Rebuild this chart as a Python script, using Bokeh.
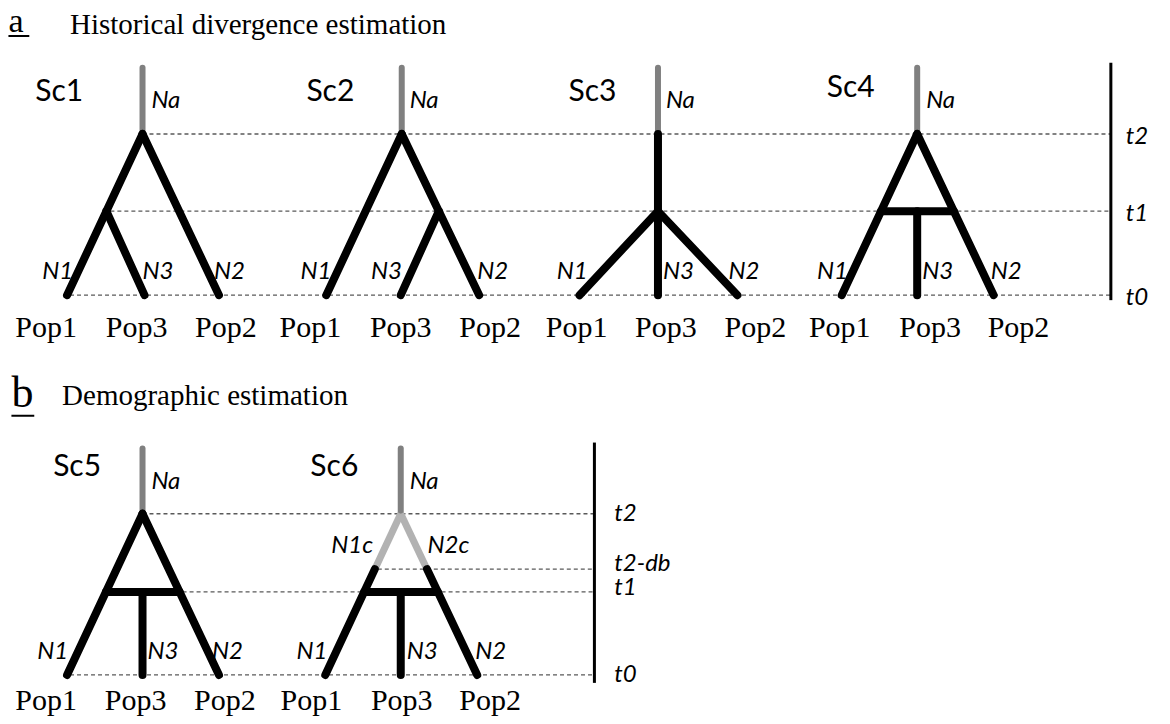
from bokeh.plotting import figure
from bokeh.models import Range1d, ColumnDataSource
from bokeh.embed import file_html
from bokeh.resources import INLINE
from bokeh.core.properties import value

# ---------------- data (diagram coordinates, reference-pixel units) ----------------
# Panel a: time levels
A_TIME_LABELS = ["t2", "t1", "t0"]
A_TIME_Y = [135, 213, 298]
A_NA_TOP = 68
A_BAR_X = 1118
A_BAR_Y = [63, 303]

# Panel b: time levels
B_TIME_LABELS = ["t2", "t2-db", "t1", "t0"]
B_TIME_Y = [519, 575, 598, 682]
B_TIME_LABEL_Y = [517, 567, 592, 680]
B_NA_TOP = 453
B_BAR_X = 598
B_BAR_Y = [447, 690]

SCENARIOS = ["Sc1", "Sc2", "Sc3", "Sc4", "Sc5", "Sc6"]
ROOT_X = [143, 404, 662, 923, 143, 403]
POP1_X = [67, 328, 583, 847, 67, 327]
POP3_X = [145, 403, 662, 923, 143, 403]
POP2_X = [220, 482, 742, 1000, 220, 480]

POP_NAMES = ["Pop1", "Pop3", "Pop2"]
POP_LABEL_X = [46, 137, 227, 312, 403, 493, 580, 670, 760, 845, 936, 1025]
POP_LABEL_X_B = [46, 136, 226, 313, 404, 493]

SC_LABEL_X = [35, 308, 572, 832, 53, 312]
SC_LABEL_Y = [89, 89, 89, 85, 469, 469]
NA_LABEL_X = [152, 412, 670, 932, 152, 412]
NA_LABEL_Y = [99, 99, 99, 99, 484, 484]
N_LABELS = ["N1", "N3", "N2"]
N1_LABEL_X = [42, 302, 560, 822, 37, 298]
N3_LABEL_X = [143, 373, 667, 928, 148, 409]
N2_LABEL_X = [215, 480, 733, 997, 213, 478]
N_LABEL_Y = [272, 272, 272, 272, 656, 656]
NC_LABELS = ["N1c", "N2c"]
NC_LABEL_X = [333, 430]
NC_LABEL_Y = [549, 549]

PANEL_LETTERS = ["a", "b"]
PANEL_TITLES = ["Historical divergence estimation", "Demographic estimation"]

BLACK = "#000000"
GRAY = "#808080"
LIGHT = "#b2b2b2"
DASH = "#595959"

# ---------------- figure ----------------
W, H = 1162, 716
p = figure(width=W, height=H, x_range=Range1d(0, 1170), y_range=Range1d(724, 0),
           output_backend="svg", toolbar_location=None, min_border=0)
p.axis.visible = False
p.grid.visible = False
p.outline_line_color = None
p.background_fill_color = "white"


def xat(x0, y0, x1, y1, y):
    return x0 + (x1 - x0) * (y - y0) / (y1 - y0)


dash_x0, dash_x1, dash_y = [], [], []
gray = dict(x0=[], y0=[], x1=[], y1=[])
light = dict(x0=[], y0=[], x1=[], y1=[])
blk = dict(x0=[], y0=[], x1=[], y1=[])


def seg(d, x0, y0, x1, y1):
    d["x0"].append(x0); d["y0"].append(y0); d["x1"].append(x1); d["y1"].append(y1)


# panel a trees
t2, t1, t0 = A_TIME_Y
for i in range(4):
    rx, a, m, b = ROOT_X[i], POP1_X[i], POP3_X[i], POP2_X[i]
    if i == 2:
        seg(gray, rx, A_NA_TOP, rx, t2 - 4)
        seg(blk, rx, t2, rx, t0)
        seg(blk, rx, t1, a, t0)
        seg(blk, rx, t1, b, t0)
    else:
        seg(gray, rx, A_NA_TOP, rx, t2)
        seg(blk, rx, t2, a, t0)
        seg(blk, rx, t2, b, t0)
        if i == 0:
            seg(blk, xat(rx, t2, a, t0, t1), t1, m, t0)
        elif i == 1:
            seg(blk, xat(rx, t2, b, t0, t1), t1, m, t0)
        else:
            seg(blk, xat(rx, t2, a, t0, t1), t1, xat(rx, t2, b, t0, t1), t1)
            seg(blk, m, t1, m, t0)

# panel a dashed lines
for y, xs in zip(A_TIME_Y, [ROOT_X[0] + 7, xat(ROOT_X[0], t2, POP1_X[0], t0, t1) + 4, POP1_X[0] + 3]):
    dash_x0.append(xs); dash_x1.append(A_BAR_X); dash_y.append(y)

# panel b trees
bt2, bdb, bt1, bt0 = B_TIME_Y
for i in (4, 5):
    rx, a, m, b = ROOT_X[i], POP1_X[i], POP3_X[i], POP2_X[i]
    seg(gray, rx, B_NA_TOP, rx, bt2)
    if i == 4:
        seg(blk, rx, bt2, a, bt0)
        seg(blk, rx, bt2, b, bt0)
    else:
        la, lb = xat(rx, bt2, a, bt0, bdb), xat(rx, bt2, b, bt0, bdb)
        seg(light, rx, bt2, la, bdb)
        seg(light, rx, bt2, lb, bdb)
        seg(blk, la, bdb, a, bt0)
        seg(blk, lb, bdb, b, bt0)
    seg(blk, xat(rx, bt2, a, bt0, bt1), bt1, xat(rx, bt2, b, bt0, bt1), bt1)
    seg(blk, m, bt1, m, bt0)

for y, xs in zip(B_TIME_Y, [ROOT_X[4] + 7,
                            xat(ROOT_X[5], bt2, POP1_X[5], bt0, bdb) + 3,
                            xat(ROOT_X[4], bt2, POP2_X[4], bt0, bt1) + 3,
                            POP1_X[4] + 3]):
    dash_x0.append(xs); dash_x1.append(B_BAR_X); dash_y.append(y)

p.segment(x0=dash_x0, y0=dash_y, x1=dash_x1, y1=dash_y, line_color=DASH,
          line_width=1.3, line_dash="4 3")
p.segment(x0="x0", y0="y0", x1="x1", y1="y1", source=ColumnDataSource(gray),
          line_color=GRAY, line_width=6, line_cap="round")
p.segment(x0="x0", y0="y0", x1="x1", y1="y1", source=ColumnDataSource(light),
          line_color=LIGHT, line_width=7, line_cap="butt")
p.segment(x0="x0", y0="y0", x1="x1", y1="y1", source=ColumnDataSource(blk),
          line_color=BLACK, line_width=8, line_cap="round")

# time bars
p.segment(x0=[A_BAR_X, B_BAR_X], y0=[A_BAR_Y[0], B_BAR_Y[0]], x1=[A_BAR_X, B_BAR_X],
          y1=[A_BAR_Y[1], B_BAR_Y[1]], line_color=BLACK, line_width=3)

SANS = value("Lato")
SERIF = value("Liberation Serif")
common = dict(text_baseline="middle", text_color=BLACK)

# time labels
p.text(x=[A_BAR_X + 15] * 3, y=A_TIME_Y, text=A_TIME_LABELS, text_font=SANS,
       text_font_style="italic", text_font_size="24px", **common)
p.text(x=[B_BAR_X + 20] * 4, y=B_TIME_LABEL_Y, text=B_TIME_LABELS, text_font=SANS,
       text_font_style="italic", text_font_size="24px", **common)

# scenario labels
p.text(x=SC_LABEL_X, y=SC_LABEL_Y, text=SCENARIOS, text_font=SANS, text_font_size="30px", **common)
p.text(x=NA_LABEL_X, y=NA_LABEL_Y, text=["Na"] * 6, text_font=SANS, text_font_style="italic",
       text_font_size="24px", **common)
nx, ny, nt = [], [], []
for i in range(6):
    for lx, lt in zip([N1_LABEL_X[i], N3_LABEL_X[i], N2_LABEL_X[i]], N_LABELS):
        nx.append(lx); ny.append(N_LABEL_Y[i]); nt.append(lt)
p.text(x=nx, y=ny, text=nt, text_font=SANS, text_font_style="italic",
       text_font_size="24px", **common)
p.text(x=NC_LABEL_X, y=NC_LABEL_Y, text=NC_LABELS, text_font=SANS, text_font_style="italic",
       text_font_size="24px", **common)

# population labels
p.text(x=POP_LABEL_X, y=[330] * len(POP_LABEL_X), text=POP_NAMES * 4, text_font=SERIF,
       text_font_size="30px", text_align="center", **common)
p.text(x=POP_LABEL_X_B, y=[707] * len(POP_LABEL_X_B), text=POP_NAMES * 2, text_font=SERIF,
       text_font_size="30px", text_align="center", **common)

# panel titles
p.text(x=[8], y=[20], text=PANEL_LETTERS[:1], text_font=SERIF, text_font_size="34px", **common)
p.text(x=[11], y=[396], text=PANEL_LETTERS[1:], text_font=SERIF, text_font_size="44px", **common)
p.segment(x0=[8, 11], y0=[36, 420], x1=[29, 34], y1=[36, 420], line_color=BLACK, line_width=2)
p.text(x=[70, 62], y=[24, 399], text=PANEL_TITLES,
       text_font=SERIF, text_font_size="29px", **common)

open("out.html", "w").write(file_html(p, INLINE))
